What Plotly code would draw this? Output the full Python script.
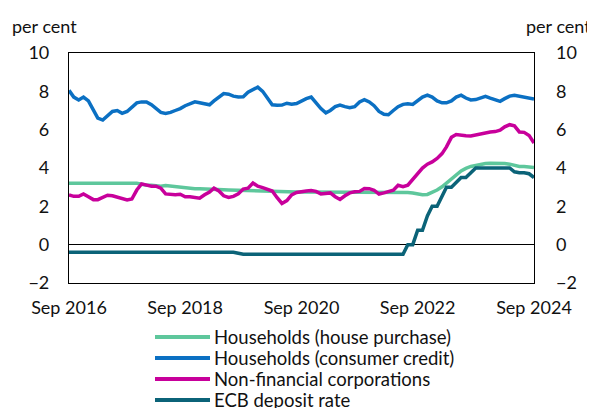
import plotly.graph_objects as go
import pandas as pd

dates = pd.date_range("2016-09-01", "2024-09-01", freq="MS")

house_purchase = [3.2]*15 + [3.15, 3.1, 3.1, 3.08, 3.05, 3.08, 3.05, 3.02, 3.0, 3.0, 2.95, 2.92, 2.92, 2.9, 2.9,
                  2.88, 2.88, 2.86, 2.85, 2.84, 2.83, 2.82, 2.82, 2.81, 2.8, 2.8, 2.79, 2.78, 2.77, 2.76,
                  2.75, 2.75, 2.75, 2.75, 2.75, 2.75, 2.75, 2.75, 2.75, 2.75, 2.75, 2.75, 2.75, 2.74, 2.74,
                  2.74, 2.74, 2.74, 2.73, 2.73, 2.73, 2.73, 2.72, 2.72, 2.72, 2.72, 2.7, 2.65, 2.6, 2.62,
                  2.72, 2.85, 3.02, 3.2, 3.4, 3.65, 3.85, 3.98, 4.08, 4.13, 4.2, 4.23, 4.25, 4.25, 4.25,
                  4.24, 4.2, 4.12, 4.08, 4.08, 4.06, 4.02]

consumer_credit = [8.05, 7.7, 7.55, 7.7, 7.5, 7.0, 6.6, 6.5, 6.7, 6.95, 7.0, 6.85, 6.95, 7.2, 7.4, 7.45,
                   7.45, 7.3, 7.1, 6.9, 6.85, 6.9, 7.0, 7.1, 7.25, 7.35, 7.45, 7.4, 7.35, 7.3, 7.5, 7.7,
                   7.88, 7.85, 7.75, 7.7, 7.72, 7.95, 8.1, 8.22, 8.0, 7.6, 7.3, 7.27, 7.28, 7.38, 7.33,
                   7.36, 7.5, 7.62, 7.7, 7.4, 7.1, 6.88, 7.0, 7.2, 7.28, 7.2, 7.15, 7.2, 7.45, 7.57, 7.45,
                   7.25, 6.95, 6.8, 6.78, 7.0, 7.2, 7.32, 7.35, 7.32, 7.5, 7.7, 7.8, 7.7, 7.5, 7.4, 7.4,
                   7.5, 7.7, 7.8, 7.65, 7.55, 7.57, 7.65, 7.74, 7.65, 7.55, 7.48, 7.62, 7.75, 7.8, 7.75,
                   7.68, 7.62, 7.6]

nfc = [2.6, 2.52, 2.52, 2.65, 2.5, 2.35, 2.35, 2.45, 2.58, 2.55, 2.47, 2.4, 2.33, 2.38, 2.85, 3.17,
       3.1, 3.05, 3.05, 2.95, 2.65, 2.62, 2.6, 2.63, 2.5, 2.5, 2.48, 2.42, 2.6, 2.75, 2.95, 2.8, 2.55,
       2.46, 2.52, 2.65, 2.9, 2.95, 3.22, 3.05, 2.98, 2.9, 2.8, 2.45, 2.15, 2.3, 2.6, 2.72, 2.78, 2.8,
       2.82, 2.78, 2.65, 2.7, 2.7, 2.5, 2.36, 2.55, 2.7, 2.76, 2.78, 2.93, 2.92, 2.84, 2.64, 2.7, 2.76,
       2.84, 3.1, 3.02, 3.1, 3.4, 3.75, 4.0, 4.2, 4.32, 4.5, 4.75, 5.1, 5.6, 5.75, 5.7, 5.68, 5.67,
       5.72, 5.8, 5.85, 5.88, 5.9, 5.97, 6.15, 6.26, 6.2, 5.88, 5.86, 5.7, 5.3]

ecb_rate = [-0.4]*35 + [-0.45] + [-0.5]*33 + [-0.5, 0.0, 0.0, 0.75, 0.75, 1.5, 2.0, 2.0, 2.5, 3.0,
                                             3.0, 3.25, 3.5, 3.5, 3.75, 4.0, 4.0, 4.0, 4.0, 4.0, 4.0,
                                             4.0, 4.0, 3.8, 3.75, 3.75, 3.7, 3.5]

series_names = ["Households (house purchase)", "Households (consumer credit)",
                "Non-financial corporations", "ECB deposit rate"]
series_values = [house_purchase, consumer_credit, nfc, ecb_rate]
colors = ["#5EC79C", "#0B70C3", "#C8009B", "#0B6378"]

tick_dates = ["2016-09-01", "2018-09-01", "2020-09-01", "2022-09-01", "2024-09-01"]
tick_labels = ["Sep 2016", "Sep 2018", "Sep 2020", "Sep 2022", "Sep 2024"]
y_ticks = [-2, 0, 2, 4, 6, 8, 10]

FONT = "Lato, 'Noto Sans', sans-serif"
FS = 18

# page body has an 8px margin; target positions below are window pixels
OFF = 8
W, H = 595, 408
L = 69 - OFF
T = 53 - OFF
R = W - (534 - OFF)
B = H - (283 - OFF)
PW, PH = W - L - R, H - T - B


def px_x(x):
    return (x - OFF - L) / PW


def px_y(y):
    return (H - B - (y - OFF)) / PH


fig = go.Figure()
for name, vals, col in zip(series_names, series_values, colors):
    fig.add_trace(go.Scatter(x=dates, y=vals, name=name, mode="lines",
                             line=dict(color=col, width=3.5), showlegend=False))
# invisible trace for right axis
fig.add_trace(go.Scatter(x=[dates[0]], y=[0], yaxis="y2", showlegend=False,
                         mode="lines", line=dict(width=0), hoverinfo="skip"))

shapes = []
annotations = [
    dict(text="per cent", xref="paper", yref="paper", x=px_x(10), y=px_y(26),
         xanchor="left", yanchor="middle", showarrow=False, font=dict(size=FS)),
    dict(text="per cent", xref="paper", yref="paper", x=px_x(593), y=px_y(26),
         xanchor="right", yanchor="middle", showarrow=False, font=dict(size=FS)),
]
row_y = [337, 358, 379, 400]
for name, col, ry in zip(series_names, colors, row_y):
    shapes.append(dict(type="line", xref="paper", yref="paper",
                       x0=px_x(155), x1=px_x(210), y0=px_y(ry), y1=px_y(ry),
                       line=dict(color=col, width=4)))
    annotations.append(dict(text=name, xref="paper", yref="paper", x=px_x(212), y=px_y(ry),
                            xanchor="left", yanchor="middle", showarrow=False,
                            font=dict(size=18.5)))

fig.update_layout(
    width=W, height=H,
    margin=dict(l=L, r=R, t=T, b=B, autoexpand=False),
    paper_bgcolor="white", plot_bgcolor="white",
    font=dict(family=FONT, size=FS, color="#111111"),
    showlegend=False,
    xaxis=dict(range=[dates[0], dates[-1]], tickvals=tick_dates, ticktext=tick_labels,
               showgrid=False, showline=True, linecolor="black", linewidth=1.2,
               mirror=True, ticks="", zeroline=False, tickfont=dict(size=FS),
               ticklabelstandoff=8),
    yaxis=dict(range=[-2, 10], tickvals=y_ticks, showgrid=False, showline=True,
               linecolor="black", linewidth=1.2, mirror=True, ticks="",
               zeroline=True, zerolinecolor="black",
               zerolinewidth=1, tickfont=dict(size=FS), ticklabelstandoff=15),
    yaxis2=dict(range=[-2, 10], tickvals=y_ticks, overlaying="y", side="right",
                showgrid=False, showline=False, zeroline=False, ticks="",
                tickfont=dict(size=FS), ticklabelstandoff=21),
    shapes=shapes,
    annotations=annotations,
)

fig.write_html("out.html")
